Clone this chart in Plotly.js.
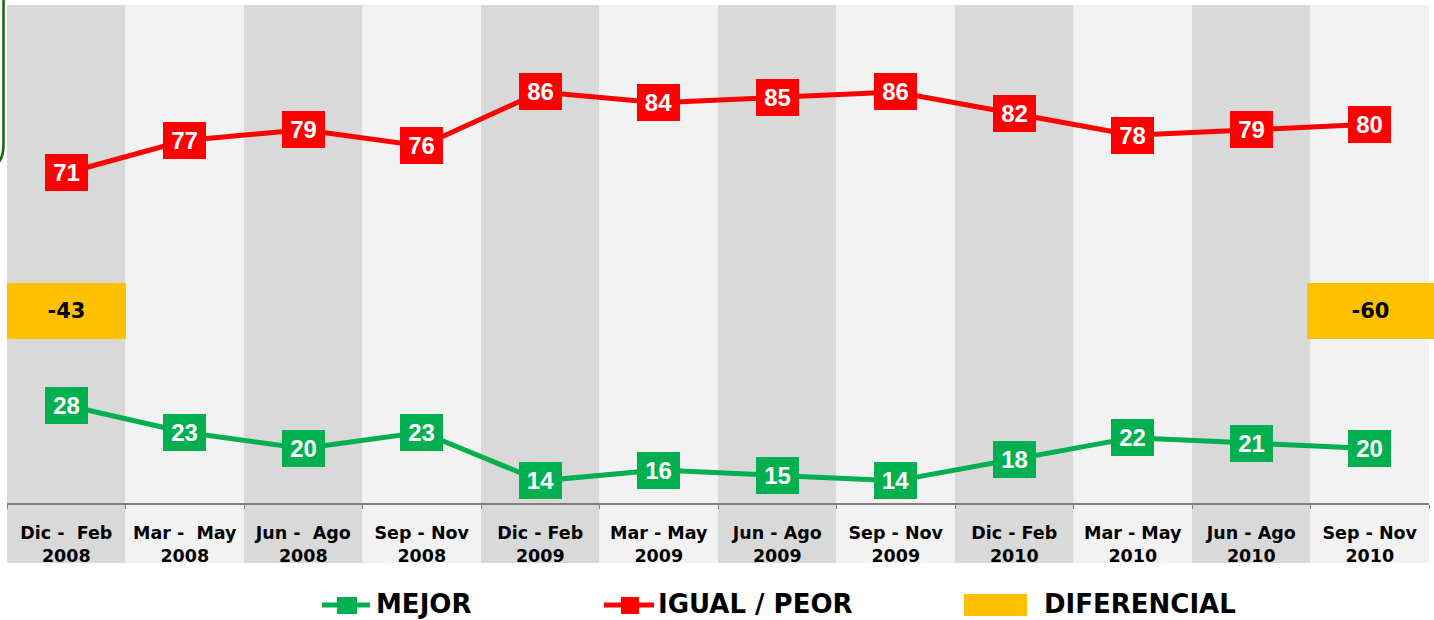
<!DOCTYPE html>
<html>
<head>
<meta charset="utf-8">
<script src="https://cdn.plot.ly/plotly-3.0.1.min.js"></script>
<style>html,body{margin:0;padding:0;background:#fff;}#chart{width:1434px;height:620px;}</style>
</head>
<body>
<div id="chart"></div>
<script>
// ---- data ----
const periods = ["Dic -&nbsp; Feb", "Mar -&nbsp; May", "Jun -&nbsp; Ago", "Sep - Nov",
                 "Dic - Feb", "Mar - May", "Jun - Ago", "Sep - Nov",
                 "Dic - Feb", "Mar - May", "Jun - Ago", "Sep - Nov"];
const years = ["2008", "2008", "2008", "2008", "2009", "2009", "2009", "2009", "2010", "2010", "2010", "2010"];
const mejor = [28, 23, 20, 23, 14, 16, 15, 14, 18, 22, 21, 20];
const igualPeor = [71, 77, 79, 76, 86, 84, 85, 86, 82, 78, 79, 80];
const diferencial = [-43, null, null, null, null, null, null, null, null, null, null, -60];
const seriesNames = ["MEJOR", "IGUAL / PEOR", "DIFERENCIAL"];

// ---- layout helpers ----
const L = 7, R = 1429, T = 5, B = 503;
const px = v => (v - L) / (R - L);
const py = v => (B - v) / (B - T);
const GREEN = '#00B050', RED = '#FF0000', GOLD = '#FFC000';
const Y_RANGE = [9.9, 102.1];
const DIF_Y = 45.5;

const labels = periods.map((p, i) => p + '<br>' + years[i]);
const n = labels.length;

const traces = [
  {x: labels, y: igualPeor, type: 'scatter', mode: 'lines', name: seriesNames[1],
   line: {color: RED, width: 5}, showlegend: false, hoverinfo: 'skip'},
  {x: labels, y: mejor, type: 'scatter', mode: 'lines', name: seriesNames[0],
   line: {color: GREEN, width: 5}, showlegend: false, hoverinfo: 'skip'}
];

const shapes = [];
for (let i = 0; i < n; i++) {
  shapes.push({type: 'rect', xref: 'paper', yref: 'paper', x0: i / n, x1: (i + 1) / n,
    y0: py(563), y1: 1, fillcolor: i % 2 === 0 ? '#d9d9d9' : '#f2f2f2', line: {width: 0}, layer: 'below'});
}
// decorative border fragment at top-left
shapes.push({type: 'path', xref: 'paper', yref: 'paper',
  path: `M ${px(3.5)},${py(-2)} L ${px(3.5)},${py(145)} Q ${px(3.5)},${py(156)} ${px(-1)},${py(162)}`,
  line: {color: '#0a6a0a', width: 2.5}});

const annotations = [];
const boxFont = {family: 'Liberation Sans, Arial, sans-serif', size: 24, color: '#ffffff', weight: 'bold'};
igualPeor.forEach((v, i) => annotations.push({x: labels[i], y: v, text: String(v), showarrow: false,
  bgcolor: RED, width: 43, height: 37, borderpad: 0, borderwidth: 0, font: boxFont}));
mejor.forEach((v, i) => annotations.push({x: labels[i], y: v, text: String(v), showarrow: false,
  bgcolor: GREEN, width: 43, height: 37, borderpad: 0, borderwidth: 0, font: boxFont}));
diferencial.forEach((v, i) => {
  if (v === null) return;
  const last = i === n - 1;
  annotations.push({x: labels[i], y: DIF_Y, text: String(v), showarrow: false,
    bgcolor: GOLD, width: last ? 127 : 119, height: 56, xshift: last ? 1 : 0,
    borderpad: 0, borderwidth: 0,
    font: {family: 'DejaVu Sans', size: 21, color: '#000', weight: 'bold'}});
});

// custom legend
const legFont = {family: 'DejaVu Sans', size: 26, color: '#000', weight: 'bold'};
const legY = 605;
const legendItems = [
  {color: GREEN, lx0: 322, lx1: 370, sx0: 337, sx1: 357, tx: 375, kind: 'line'},
  {color: RED, lx0: 604, lx1: 654, sx0: 621, sx1: 639, tx: 657, kind: 'line'},
  {color: GOLD, sx0: 964, sx1: 1027, tx: 1043, kind: 'rect'}
];
legendItems.forEach((it, k) => {
  if (it.kind === 'line') {
    shapes.push({type: 'line', xref: 'paper', yref: 'paper', x0: px(it.lx0), x1: px(it.lx1),
      y0: py(legY), y1: py(legY), line: {color: it.color, width: 5}});
    shapes.push({type: 'rect', xref: 'paper', yref: 'paper', x0: px(it.sx0), x1: px(it.sx1),
      y0: py(614), y1: py(597), fillcolor: it.color, line: {width: 0}});
  } else {
    shapes.push({type: 'rect', xref: 'paper', yref: 'paper', x0: px(it.sx0), x1: px(it.sx1),
      y0: py(616), y1: py(594), fillcolor: it.color, line: {width: 0}});
  }
  annotations.push({xref: 'paper', yref: 'paper', x: px(it.tx), y: py(603.5), xanchor: 'left', yanchor: 'middle',
    text: seriesNames[k], showarrow: false, borderpad: 0, font: legFont});
});

const layout = {
  width: 1434, height: 620,
  margin: {l: L, r: 1434 - R, t: T, b: 620 - B, pad: 0},
  paper_bgcolor: '#ffffff', plot_bgcolor: 'rgba(0,0,0,0)',
  showlegend: false,
  xaxis: {type: 'category', range: [-0.5, n - 0.5], tickson: 'boundaries', ticks: 'outside',
    ticklen: 4, tickwidth: 1, tickcolor: '#808080', showline: true, linecolor: '#808080', linewidth: 2,
    showgrid: false, zeroline: false, fixedrange: true, ticklabelstandoff: 13,
    tickfont: {family: 'DejaVu Sans', size: 17.5, color: '#000', weight: 'bold'}},
  yaxis: {range: Y_RANGE, visible: false, showgrid: false, zeroline: false, fixedrange: true},
  shapes: shapes,
  annotations: annotations
};

Plotly.newPlot('chart', traces, layout, {displayModeBar: false, staticPlot: true});
</script>
</body>
</html>
